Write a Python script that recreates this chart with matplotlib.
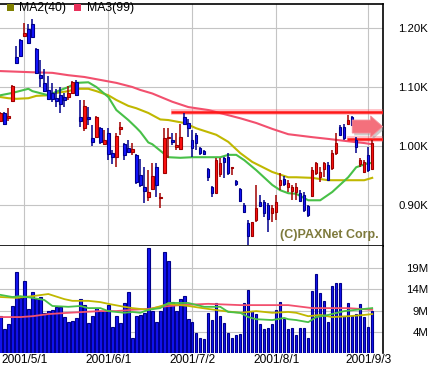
import matplotlib
matplotlib.use('Agg')
import matplotlib.pyplot as plt
from matplotlib.patches import Polygon, Rectangle
import numpy as np

plt.rcParams['font.family'] = ['Liberation Sans', 'DejaVu Sans']

# ---------------- data ----------------
OPEN = [1042, 1056, 1047, 1076, 1151, 1180, 1186, 1198, 1207, 1164,
        1120, 1107, 1095, 1090, 1081, 1086, 1083, 1083, 1090, 1108,
        1049, 1030, 1049, 1014, 1015, 1030, 1003, 1022, 988, 981,
        1029, 1003, 997, 990, 985, 951, 930, 914, 927, 964,
        912, 954, 1014, 1010, 998, 995, 1049, 1039, 1010, 1019,
        997, 992, 961, 930, 920, 953, 980, 981, 963, 941,
        927, 900, 869, 847, 875, 905, 905, 900, 886, 888,
        934, 944, 930, 924, 922, 920, 917, 898, 915, 954,
        947, 961, 968, 963, 988, 1032, 1032, 1037, 1049, 1010,
        969, 956, 985, 961]
HIGH = [1058, 1058, 1064, 1103, 1169, 1181, 1208, 1207, 1215, 1166,
        1146, 1131, 1119, 1107, 1097, 1100, 1090, 1102, 1110, 1112,
        1078, 1078, 1066, 1036, 1051, 1032, 1027, 1030, 993, 1022,
        1041, 1005, 1010, 1005, 986, 978, 964, 959, 971, 971,
        920, 1030, 1030, 1022, 1022, 1037, 1056, 1046, 1027, 1022,
        998, 993, 963, 932, 980, 980, 981, 988, 964, 942,
        929, 903, 875, 871, 934, 917, 908, 903, 900, 917,
        954, 949, 942, 934, 937, 925, 922, 900, 964, 973,
        964, 973, 973, 993, 1022, 1036, 1037, 1053, 1051, 1015,
        980, 976, 998, 1010]
LOW = [1041, 1036, 1042, 1075, 1139, 1151, 1185, 1173, 1183, 1122,
       1100, 1092, 1078, 1075, 1066, 1056, 1066, 1078, 1088, 1085,
       1032, 1025, 1036, 1000, 1014, 1003, 1002, 976, 969, 964,
       1019, 976, 988, 985, 936, 930, 903, 907, 925, 914,
       895, 954, 980, 1002, 993, 993, 1037, 1015, 981, 993,
       985, 985, 941, 914, 920, 947, 946, 951, 951, 932,
       905, 886, 832, 846, 871, 897, 880, 854, 871, 875,
       925, 932, 922, 908, 908, 905, 888, 880, 914, 951,
       939, 947, 942, 959, 985, 1017, 1010, 1036, 1034, 988,
       964, 954, 956, 959]
CLOSE = [1056, 1037, 1051, 1102, 1141, 1153, 1192, 1175, 1185, 1124,
         1115, 1093, 1080, 1080, 1076, 1071, 1078, 1090, 1108, 1086,
         1042, 1068, 1046, 1007, 1049, 1007, 1010, 986, 981, 1017,
         1032, 985, 990, 995, 939, 934, 924, 922, 949, 934,
         914, 1014, 1015, 1007, 1002, 1015, 1037, 1030, 997, 1005,
         988, 986, 947, 920, 976, 971, 973, 954, 964, 936,
         907, 888, 847, 871, 895, 898, 886, 876, 895, 905,
         942, 936, 937, 930, 930, 907, 892, 883, 959, 971,
         956, 971, 942, 988, 1005, 1019, 1014, 1044, 1036, 998,
         976, 973, 959, 1005]
VOLUME_M = [7.8, 4.7, 5.9, 10.1, 18.1, 12.0, 16.0, 9.4, 13.4, 11.7,
            12.2, 8.5, 8.9, 9.2, 9.9, 9.9, 7.5, 6.3, 6.6, 7.3,
            11.7, 10.3, 6.1, 7.8, 9.6, 8.9, 8.9, 10.3, 5.2, 7.8,
            6.1, 10.8, 13.4, 2.6, 7.8, 8.0, 8.5, 23.7, 8.9, 6.3,
            8.9, 22.8, 20.6, 11.0, 8.9, 11.7, 12.4, 7.1, 6.3, 3.8,
            2.6, 2.4, 8.5, 6.8, 10.8, 7.8, 6.1, 3.8, 2.6, 3.3,
            3.5, 10.8, 13.8, 8.9, 8.2, 5.9, 4.7, 4.9, 5.9, 9.2,
            11.0, 7.1, 4.7, 4.9, 3.3, 4.9, 4.9, 2.6, 13.6, 17.6,
            13.1, 11.3, 6.3, 14.8, 15.5, 15.5, 7.8, 10.8, 7.8, 8.2,
            10.6, 7.5, 5.2, 8.9]

# moving averages read at selected bars
MA1_K = [0, 3, 7, 8, 12, 14, 17, 19, 22, 24, 27, 29, 32, 34, 35, 37, 38, 42, 45, 48,
         52, 55, 57, 59, 61, 64, 68, 70, 72, 74, 77, 80, 83, 87, 89, 92, 93]
MA1_V = [1086, 1090, 1097, 1093, 1086, 1092, 1100, 1107, 1108, 1100, 1083, 1061, 1044,
         1031, 1024, 1006, 1003, 981, 980, 981, 981, 981, 985, 985, 976, 959, 934, 925,
         920, 919, 908, 908, 922, 947, 964, 971, 971]
MA2_K = [0, 2, 4, 7, 9, 12, 14, 17, 19, 22, 24, 27, 29, 32, 34, 37, 40, 42, 46, 49,
         54, 57, 60, 63, 68, 72, 74, 78, 82, 87, 91, 93]
MA2_V = [1083, 1081, 1080, 1081, 1085, 1086, 1090, 1093, 1097, 1097, 1093, 1086, 1078,
         1068, 1064, 1056, 1045, 1044, 1039, 1030, 1019, 1007, 988, 973, 956, 947, 947,
         946, 942, 942, 942, 946]
MA3_K = [0, 8, 13, 17, 21, 25, 29, 33, 35, 38, 43, 47, 52, 56, 60, 64, 68, 72, 78,
         82, 87, 91, 93]
MA3_V = [1127, 1125, 1124, 1120, 1117, 1112, 1107, 1100, 1095, 1089, 1075, 1066, 1061,
         1054, 1047, 1039, 1029, 1020, 1015, 1012, 1008, 1005, 1003]

VMA1_K = [0, 3, 5, 8, 11, 13, 17, 20, 22, 25, 27, 31, 33, 35, 37, 40, 42, 47, 51, 55,
          57, 60, 62, 64, 68, 71, 72, 74, 77, 79, 82, 86, 89, 93]
VMA1_V = [12.7, 12.2, 12.4, 12.0, 11.5, 10.1, 9.9, 10.1, 9.6, 9.6, 8.9, 8.5, 8.7, 8.5,
          9.2, 9.6, 10.8, 10.8, 9.9, 9.9, 8.7, 8.5, 7.5, 7.0, 6.8, 7.3, 7.0, 6.8, 6.3,
          7.5, 8.0, 8.9, 9.2, 9.6]
VMA2_K = [0, 4, 8, 12, 16, 18, 22, 25, 27, 31, 33, 37, 42, 47, 52, 56, 60, 64, 68, 72,
          74, 77, 80, 83, 87, 91, 93]
VMA2_V = [12.2, 12.0, 12.4, 12.9, 11.7, 11.3, 11.3, 11.0, 10.6, 9.9, 9.6, 9.2, 10.6,
          10.1, 9.4, 8.9, 8.5, 8.9, 8.5, 8.7, 8.5, 7.7, 8.0, 7.5, 7.7, 8.0, 8.2]
VMA3_K = [0, 5, 8, 12, 17, 21, 25, 29, 33, 37, 40, 45, 52, 60, 68, 72, 78, 87, 93]
VMA3_V = [7.5, 7.5, 7.7, 8.2, 8.5, 8.7, 8.9, 8.9, 9.2, 9.4, 9.9, 10.3, 10.6, 10.3,
          10.3, 10.3, 9.6, 9.6, 9.2]

LEVEL_HI = 1058          # thick horizontal line
LEVEL_HI_START = 42.6
LEVEL_LO = 1012
LEVEL_LO_START = 86.6
ARROW_Y = 1033

PRICE_TICKS = [900, 1000, 1100, 1200]
VOL_TICKS = [4, 9, 14, 19]
DATE_IDX = [6, 27, 48, 69, 92]
DATE_LABELS = ['2001/5/1', '2001/6/1', '2001/7/2', '2001/8/1', '2001/9/3']
LEGEND = [('MA2(40)', '#808000'), ('MA3(99)', '#e8305a')]

# ---------------- figure ----------------
W, H = 434, 366
fig = plt.figure(figsize=(W / 100, H / 100), dpi=100)
fig.patch.set_facecolor('white')


def fx(px):
    return px / W


def fy(py):
    return 1 - py / H


ax = fig.add_axes([0, fy(246), 383 / W, (246 - 4) / H])
axv = fig.add_axes([0, fy(353), 383 / W, (353 - 246) / H], sharex=ax)

idx = np.arange(len(OPEN))
o, h, l, c = (np.array(a, dtype=float) for a in (OPEN, HIGH, LOW, CLOSE))
up = c >= o
fill = np.where(up, '#ff1010', '#1414ff')
edge = np.where(up, '#a00000', '#00008c')

grid_kw = dict(color='#c4c4c4', lw=0.8)
for a in (ax, axv):
    a.set_axisbelow(True)
    a.grid(True, **grid_kw)

# moving averages
ax.plot(MA3_K, MA3_V, color='#f2506e', lw=1.5, zorder=2)
ax.plot(MA2_K, MA2_V, color='#c0b800', lw=1.5, zorder=2)
ax.plot(MA1_K, MA1_V, color='#48c048', lw=1.5, zorder=2)

# horizontal levels
x_end = 100
for lvl, start in ((LEVEL_HI, LEVEL_HI_START), (LEVEL_LO, LEVEL_LO_START)):
    ax.plot([start, x_end], [lvl, lvl], color='#ff5060', lw=4.2, alpha=0.35,
            solid_capstyle='butt', zorder=3)
    ax.plot([start, x_end], [lvl, lvl], color='#ff1818', lw=1.8,
            solid_capstyle='butt', zorder=3)

# arrow
t0, t1, t2 = 88.0, 92.6, 95.6
bh, hh = 11, 18
pts = [(t0, ARROW_Y + bh), (t1, ARROW_Y + bh), (t1, ARROW_Y + hh), (t2, ARROW_Y),
       (t1, ARROW_Y - hh), (t1, ARROW_Y - bh), (t0, ARROW_Y - bh)]
shadow = Polygon([(x + 0.5, y - 4) for x, y in pts], closed=True, fc='#909090',
                 ec='none', alpha=0.45, zorder=6)
ax.add_patch(shadow)
ax.add_patch(Polygon(pts, closed=True, fc='#f4707c', ec='#f4909a', lw=0.6, zorder=7))

# candles
ax.vlines(idx, l, h, colors=edge, lw=1.1, zorder=4)
bodies_bottom = np.minimum(o, c)
bodies_h = np.maximum(np.abs(c - o), 2.0)
ax.bar(idx, bodies_h, bottom=bodies_bottom, width=0.6, color=fill,
       edgecolor=edge, linewidth=0.8, zorder=5)

ax.set_xlim(-0.1, 95.7)
ax.set_ylim(830.5, 1240.7)
ax.yaxis.tick_right()
ax.set_yticks(PRICE_TICKS)
ax.set_yticklabels([f'{v / 1000:.2f}K' for v in PRICE_TICKS])
ax.tick_params(axis='y', length=0, pad=32.4, labelsize=8.2)
for t in ax.get_yticklabels():
    t.set_horizontalalignment('right')
ax.set_xticks(DATE_IDX)
ax.tick_params(axis='x', length=0, labelbottom=False)
for s in ('top', 'right', 'bottom'):
    ax.spines[s].set_color('black')
    ax.spines[s].set_linewidth(1.2)
ax.spines['left'].set_visible(False)

ax.text(379 / 383, (246 - 235) / 242, '(C)PAXNet Corp.', transform=ax.transAxes,
        ha='right', va='center', fontsize=9, fontweight='bold', color='#7e7a3c',
        zorder=1)

# volume
VMIN, VMAX = -0.92, 24.15
vol = np.array(VOLUME_M)
axv.bar(idx, vol - VMIN, bottom=VMIN, width=0.6, color='#1414f0',
        edgecolor='#00008c', linewidth=0.8, zorder=3)
axv.plot(VMA3_K, VMA3_V, color='#f2506e', lw=1.3, zorder=4)
axv.plot(VMA2_K, VMA2_V, color='#c0b800', lw=1.3, zorder=4)
axv.plot(VMA1_K, VMA1_V, color='#48c048', lw=1.3, zorder=4)
axv.set_ylim(VMIN, VMAX)
axv.yaxis.tick_right()
axv.set_yticks(VOL_TICKS)
axv.set_yticklabels([f'{v}M' for v in VOL_TICKS])
axv.tick_params(axis='y', length=0, pad=32.4, labelsize=8.2)
for t in axv.get_yticklabels():
    t.set_horizontalalignment('right')
axv.set_xticks(DATE_IDX)
axv.set_xticklabels(DATE_LABELS)
axv.tick_params(axis='x', length=0, pad=0.5, labelsize=8.6)
for s in ('left', 'top', 'bottom'):
    axv.spines[s].set_visible(False)
axv.spines['right'].set_color('black')
axv.spines['right'].set_linewidth(1.2)

# legend (top-left, over the frame)
lx = [7, 74]
for (label, col), x0 in zip(LEGEND, lx):
    fig.patches.append(Rectangle((fx(x0), fy(11)), 7 / W, 7 / H,
                                 transform=fig.transFigure, fc=col, ec='none'))
    fig.text(fx(x0 + 12.5), fy(8), label, ha='left', va='center', fontsize=8.8,
             color='black')

fig.savefig('out.png', dpi=100)
